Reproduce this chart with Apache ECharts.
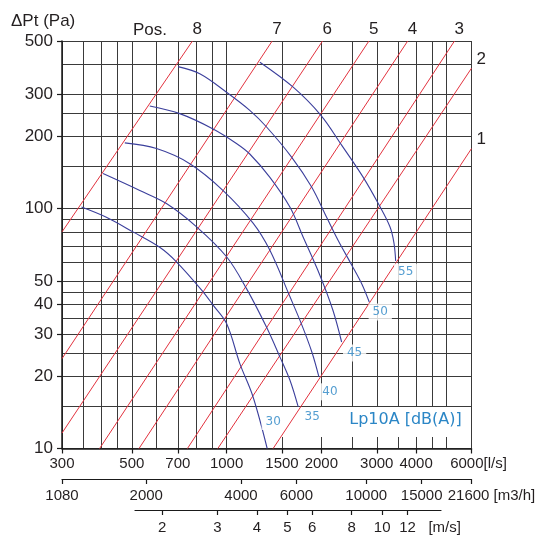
<!DOCTYPE html>
<html>
<head>
<meta charset="utf-8">
<script src="https://cdn.jsdelivr.net/npm/echarts@6/dist/echarts.min.js"></script>
<style>
html, body { margin: 0; padding: 0; background: #fff; }
#chart { width: 545px; height: 535px; }
</style>
</head>
<body>
<div id="chart"></div>
<script>
// grid lines and tick labels
const flowGrid = [300, 350, 400, 450, 500, 600, 700, 800, 900, 1000, 1500, 2000, 2500, 3000, 3500, 4000, 4500, 5000, 6000]
const flowTicks = [300, 500, 700, 1000, 1500, 2000, 3000, 4000, 6000]
const pressGrid = [10, 15, 20, 25, 30, 35, 40, 45, 50, 60, 70, 80, 90, 100, 150, 200, 250, 300, 400, 500]
const pressTicks = [10, 20, 30, 40, 50, 100, 200, 300, 500]
const m3hTicks = [1080, 2000, 4000, 6000, 10000, 15000, 21600]
const velTicks = [2, 3, 4, 5, 6, 8, 10, 12]

// damper positions: [l/s, Pa] at both ends of each system line
const posNames = ['8', '7', '6', '5', '4', '3', '2', '1']
const pos8 = [[300, 80], [779, 500]]
const pos7 = [[300, 23.7], [1396, 500]]
const pos6 = [[300, 11.6], [2018, 500]]
const pos5 = [[395, 10], [2833, 500]]
const pos4 = [[527, 10], [3762, 500]]
const pos3 = [[751, 10], [5298, 500]]
const pos2 = [[938, 10], [6000, 385]]
const pos1 = [[1406, 10], [6000, 178]]

// sound level curves Lp10A [dB(A)]
const lpNames = ['30', '35', '40', '45', '50', '55']
const lp30 = [[346, 101.5], [415, 92], [504, 80], [613, 69], [693, 60], [842, 45], [906, 39.6], [1000, 33.2], [1102, 22.6], [1214, 16.4], [1346, 10]]
const lp35 = [[405, 140], [530, 119], [644, 105], [803, 84], [1000, 63], [1157, 46.4], [1340, 32], [1477, 24.1], [1589, 19.3], [1689, 14.9]]
const lp40 = [[475, 188], [599, 178], [764, 154], [975, 119], [1214, 87], [1373, 67], [1589, 43], [1735, 32.7], [1867, 25.2], [1965, 19.9]]
const lp45 = [[570, 268], [710, 249], [906, 215], [1075, 187], [1185, 169], [1373, 135], [1589, 101.5], [1752, 76], [1979, 52.8], [2177, 37.7], [2320, 27.8]]
const lp50 = [[701, 391], [822, 365], [1002, 305], [1185, 257], [1340, 219], [1609, 164], [1863, 123], [2079, 92], [2258, 74], [2502, 58], [2692, 48.4], [2840, 40.8]]
const lp55 = [[1276, 408], [1628, 321], [1994, 245], [2320, 184], [2718, 135], [3033, 105], [3304, 84], [3402, 72], [3445, 60.5]]

const posLines = [pos8, pos7, pos6, pos5, pos4, pos3, pos2, pos1]
const lpCurves = [lp30, lp35, lp40, lp45, lp50, lp55]

const FONT = 'Liberation Sans, Arial, Helvetica, sans-serif'
const TXT = '#231f20'
const RED = '#e2323e'
const BLUE = '#3b3f9c'
const LBLUE = '#2b86c6'
const gridLine = { show: true, lineStyle: { color: '#3a3a3a', width: 1 } }
const frame = { show: true, lineStyle: { color: '#1a1a1a', width: 1.5 } }

var chart = echarts.init(document.getElementById('chart'), null, { renderer: 'canvas' })

var series = []
posLines.forEach((line, i) => {
    var atTop = line[1][1] >= 500
    series.push({
        type: 'line', xAxisIndex: 0, yAxisIndex: 0,
        data: line, showSymbol: false, silent: true, z: 3,
        lineStyle: { color: RED, width: 1 },
        endLabel: {
            show: true, formatter: posNames[i], distance: atTop ? 0 : 5,
            offset: atTop ? [0, -12] : [0, -9],
            color: TXT, fontSize: 17, fontFamily: FONT
        }
    })
})
lpCurves.forEach((c, i) => {
    series.push({
        type: 'line', xAxisIndex: 0, yAxisIndex: 0, name: lpNames[i],
        data: c, showSymbol: false, silent: true, smooth: 0.35, z: 4,
        lineStyle: { color: BLUE, width: 1.1 }
    })
})
// curve labels sit next to the end of each curve
var lblOffset = [[6, -27], [14, 10], [11, 15], [13, 11], [11, 10], [10, 11]]
series.push({
    type: 'scatter', xAxisIndex: 0, yAxisIndex: 0, z: 6, silent: true,
    symbolSize: 1, itemStyle: { color: 'rgba(0,0,0,0)' },
    data: lpCurves.map((c, i) => ({
        value: c[c.length - 1],
        label: {
            show: true, position: 'inside', offset: lblOffset[i], formatter: lpNames[i],
            color: LBLUE, fontSize: 12, fontFamily: 'DejaVu Sans, sans-serif',
            backgroundColor: '#fff', padding: [3, 4, 2, 4]
        }
    }))
})

var option = {
    animation: false,
    backgroundColor: '#fff',
    grid: [
        { left: 62, top: 41, width: 409.5, height: 407.5 },
        { left: 62, top: 469, width: 409.5, height: 10 },
        { left: 135, top: 502.5, width: 306, height: 10 }
    ],
    xAxis: [
        {
            gridIndex: 0, type: 'log', logBase: 10, min: 300, max: 6000, position: 'bottom',
            axisLine: frame, axisTick: { show: false, customValues: flowGrid },
            axisLabel: { show: false }, splitLine: gridLine
        },
        {
            gridIndex: 0, type: 'log', logBase: 10, min: 300, max: 6000, position: 'bottom', offset: 0,
            axisLine: { show: false },
            axisTick: { show: true, customValues: flowTicks, length: 5, lineStyle: { color: '#1a1a1a', width: 1.2 } },
            axisLabel: {
                customValues: flowTicks, margin: 8, color: TXT, fontSize: 15, fontFamily: FONT,
                formatter: v => v === 6000 ? '{u|6000[l/s]}' : String(v),
                rich: { u: { color: TXT, fontSize: 15, fontFamily: FONT, padding: [0, 0, 0, 14] } }
            },
            splitLine: { show: false }
        },
        {
            gridIndex: 1, type: 'log', logBase: 10, min: 1080, max: 21600, position: 'bottom',
            axisLine: { show: true, lineStyle: { color: '#1a1a1a', width: 1.2 } },
            axisTick: { show: true, customValues: m3hTicks, length: 5, lineStyle: { color: '#1a1a1a', width: 1.2 } },
            axisLabel: {
                customValues: m3hTicks, margin: 9, color: TXT, fontSize: 15, fontFamily: FONT,
                formatter: v => v === 21600 ? '{u|21600 [m3/h]}' : String(v),
                rich: { u: { color: TXT, fontSize: 15, fontFamily: FONT, padding: [0, 0, 0, 40] } }
            },
            splitLine: { show: false }
        },
        {
            gridIndex: 2, type: 'log', logBase: 10, min: 1.641, max: 15.38, position: 'bottom',
            axisLine: { show: true, lineStyle: { color: '#1a1a1a', width: 1.2 } },
            axisTick: { show: true, customValues: velTicks, length: 5, lineStyle: { color: '#1a1a1a', width: 1.2 } },
            axisLabel: {
                customValues: velTicks, margin: 10, color: TXT, fontSize: 15, fontFamily: FONT,
                formatter: v => v === 12 ? '{u|12   [m/s]}' : String(v),
                rich: { u: { color: TXT, fontSize: 15, fontFamily: FONT, padding: [0, 0, 0, 46] } }
            },
            splitLine: { show: false }
        }
    ],
    yAxis: [
        {
            gridIndex: 0, type: 'log', logBase: 10, min: 10, max: 500, position: 'left',
            axisLine: frame, axisTick: { show: false, customValues: pressGrid },
            axisLabel: { show: false }, splitLine: gridLine
        },
        {
            gridIndex: 0, type: 'log', logBase: 10, min: 10, max: 500, position: 'left', offset: 0,
            axisLine: { show: false },
            axisTick: { show: true, customValues: pressTicks, length: 5, lineStyle: { color: '#1a1a1a', width: 1.2 } },
            axisLabel: { customValues: pressTicks, margin: 9, color: TXT, fontSize: 17, fontFamily: FONT },
            splitLine: { show: false }
        },
        { gridIndex: 1, type: 'value', show: false },
        { gridIndex: 2, type: 'value', show: false }
    ],
    graphic: [
        {
            type: 'rect', z: 1, silent: true,
            shape: { x: 262, y: 407, width: 205, height: 30 },
            style: { fill: '#fff' }
        },
        {
            type: 'text', z: 10, x: 405.5, y: 420,
            style: {
                text: 'Lp10A [dB(A)]', fill: LBLUE, fontSize: 16, fontFamily: 'DejaVu Sans, sans-serif',
                align: 'center', verticalAlign: 'middle', textAlign: 'center', textVerticalAlign: 'middle'
            }
        },
        {
            type: 'text', z: 10, x: 11, y: 21,
            style: {
                text: 'ΔPt (Pa)', fill: TXT, fontSize: 17, fontFamily: FONT,
                verticalAlign: 'middle', textVerticalAlign: 'middle'
            }
        },
        {
            type: 'text', z: 10, x: 150, y: 30,
            style: {
                text: 'Pos.', fill: TXT, fontSize: 17, fontFamily: FONT,
                align: 'center', verticalAlign: 'middle', textAlign: 'center', textVerticalAlign: 'middle'
            }
        }
    ],
    series: series
}

chart.setOption(option)
</script>
</body>
</html>
